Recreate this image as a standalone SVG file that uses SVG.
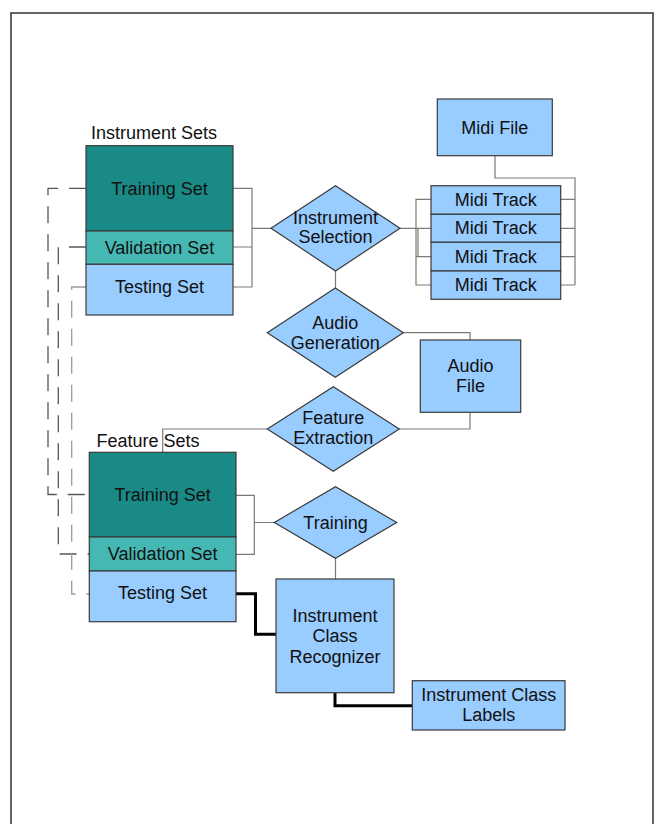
<svg xmlns="http://www.w3.org/2000/svg" width="657" height="824" viewBox="0 0 657 824">
<style>
text{font-family:"Liberation Sans",Arial,sans-serif;font-size:18px;fill:#111;text-anchor:middle}
.lbl{text-anchor:start}
.box{stroke:#3a3a3a;stroke-width:1.2}
.train{fill:#1a8a86}
.val{fill:#46b8b4}
.blue{fill:#99ccff}
.con{fill:none;stroke:#7a7a7a;stroke-width:1.2}
.thick{fill:none;stroke:#000;stroke-width:3}
.dash{fill:none;stroke:#555;stroke-width:1.3;stroke-dasharray:17 11}
.dash2{fill:none;stroke:#9a9a9a;stroke-width:1.3;stroke-dasharray:17 11}
</style>
<rect x="0" y="0" width="657" height="824" fill="#fff"/>
<rect x="11" y="13" width="642" height="830" fill="none" stroke="#333" stroke-width="1.5"/>

<g id="connectors">
<path class="con" d="M233 188.3H252V287H233M233 247H252M252 228.3H271"/>
<path class="con" d="M495 155.7V178H575V285M560.7 199.3H575M560.7 228.3H575M560.7 256.7H575M560.7 285H575"/>
<path class="con" d="M400 228.3H416M431 199.3H416V285H431M416 228.3H431M416 256.7H431M418 228.3V256.7"/>
<path class="con" d="M335.5 271V288"/>
<path class="con" d="M403.3 332.7H470V340"/>
<path class="con" d="M470 412.3V429H399.3"/>
<path class="con" d="M267.3 429H162.7V452.3"/>
<path class="con" d="M236 495.3H254.3V554.3H236M254.3 522.5H274.3"/>
<path class="con" d="M335.5 558.3V579"/>
<path class="thick" d="M236 593.8H255.5V634.3H276"/>
<path class="thick" d="M335 692.7V705.7H412.3"/>
<path class="dash" d="M86 188.3H48V494.5H89.3"/>
<path class="dash" d="M86 247H58.3V554H89.3"/>
<path class="dash2" d="M86 287H71.7V594H89.3"/>
</g>

<g id="instrument-sets">
<text class="lbl" x="91" y="138.5">Instrument Sets</text>
<rect class="box train" x="86" y="145.7" width="147" height="85.3"/>
<rect class="box val" x="86" y="231" width="147" height="33.3"/>
<rect class="box blue" x="86" y="264.3" width="147" height="50.7"/>
<text x="159.5" y="194.5">Training Set</text>
<text x="159.5" y="253.5">Validation Set</text>
<text x="159.5" y="292.5">Testing Set</text>
</g>

<g id="midi-file">
<rect class="box blue" x="437.3" y="99" width="115" height="56.7"/>
<text x="494.8" y="133.5">Midi File</text>
</g>

<g id="midi-tracks">
<rect class="box blue" x="431" y="185.7" width="129.7" height="28.6"/>
<rect class="box blue" x="431" y="214.3" width="129.7" height="28"/>
<rect class="box blue" x="431" y="242.3" width="129.7" height="28.7"/>
<rect class="box blue" x="431" y="271" width="129.7" height="28.3"/>
<text x="495.8" y="205.5">Midi Track</text>
<text x="495.8" y="234">Midi Track</text>
<text x="495.8" y="262.5">Midi Track</text>
<text x="495.8" y="291">Midi Track</text>
</g>

<g id="instrument-selection">
<polygon class="box blue" points="271,228.3 335.5,185.7 400,228.3 335.5,271"/>
<text x="335.5" y="223.5">Instrument</text>
<text x="335.5" y="243">Selection</text>
</g>

<g id="audio-generation">
<polygon class="box blue" points="267.3,332.7 335.3,288 403.3,332.7 335.3,377.3"/>
<text x="335.3" y="328.5">Audio</text>
<text x="335.3" y="348.5">Generation</text>
</g>

<g id="audio-file">
<rect class="box blue" x="420.3" y="340" width="100.4" height="72.3"/>
<text x="470.5" y="372">Audio</text>
<text x="470.5" y="392">File</text>
</g>

<g id="feature-extraction">
<polygon class="box blue" points="267.3,429 333.3,386.7 399.3,429 333.3,471.3"/>
<text x="333.3" y="423.5">Feature</text>
<text x="333.3" y="444">Extraction</text>
</g>

<g id="feature-sets">
<text class="lbl" x="96.5" y="447">Feature Sets</text>
<rect class="box train" x="89.3" y="452.3" width="146.7" height="84.7"/>
<rect class="box val" x="89.3" y="537" width="146.7" height="34"/>
<rect class="box blue" x="89.3" y="571" width="146.7" height="50.7"/>
<text x="162.6" y="501">Training Set</text>
<text x="162.6" y="560">Validation Set</text>
<text x="162.6" y="599">Testing Set</text>
</g>

<g id="training">
<polygon class="box blue" points="274.3,522.5 335.5,486.7 396.7,522.5 335.5,558.3"/>
<text x="335.5" y="528.5">Training</text>
</g>

<g id="recognizer">
<rect class="box blue" x="276" y="579" width="118" height="113.7"/>
<text x="335" y="621.5">Instrument</text>
<text x="335" y="642">Class</text>
<text x="335" y="662.5">Recognizer</text>
</g>

<g id="class-labels">
<rect class="box blue" x="412.3" y="680.7" width="152.7" height="49.3"/>
<text x="488.7" y="701">Instrument Class</text>
<text x="488.7" y="721">Labels</text>
</g>
</svg>
